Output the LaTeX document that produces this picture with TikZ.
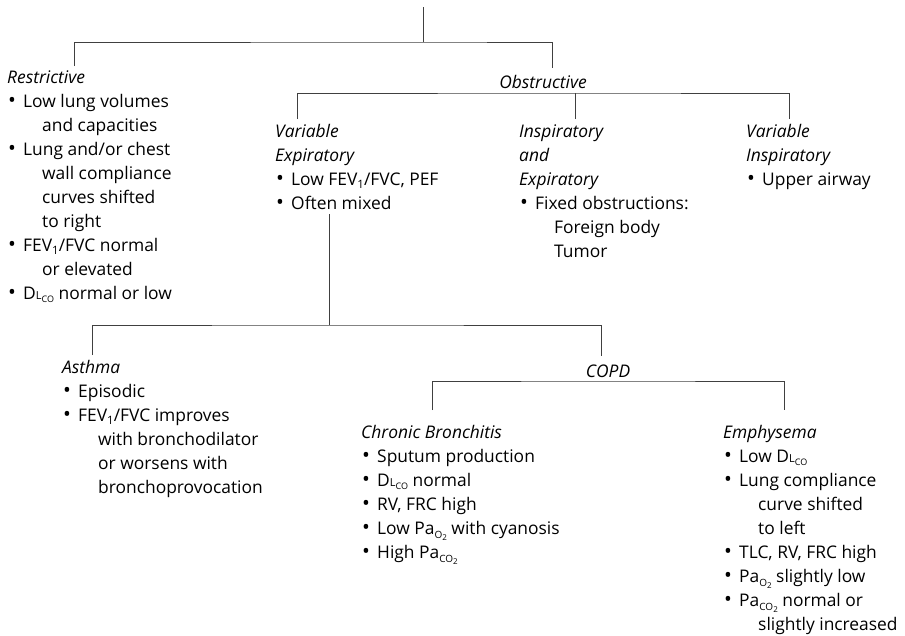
\documentclass[tikz,border=0pt]{standalone}
\usepackage{fontspec}
\setmainfont{Open Sans}
\usetikzlibrary{positioning}

\newcommand{\fs}{\fontsize{17.4}{24}\selectfont}
\newcommand{\bul}{\hspace*{1pt}\makebox[15pt][l]{\scalebox{1.2}{\textbullet}}}
\newcommand{\cont}{\hspace*{35pt}}
\newcommand{\fev}{FEV\raisebox{-3pt}{\fontsize{11.5}{11.5}\selectfont 1}}
\newcommand{\dlco}{D{\fontsize{11}{11}\selectfont L}\raisebox{-3pt}{\fontsize{9}{9}\selectfont CO}}
\newcommand{\pao}{Pa\raisebox{-4pt}{\fontsize{10}{10}\selectfont O\raisebox{-2.5pt}{\fontsize{8}{8}\selectfont 2}}}
\newcommand{\paco}{Pa\raisebox{-4pt}{\fontsize{10}{10}\selectfont CO\raisebox{-2.5pt}{\fontsize{8}{8}\selectfont 2}}}

\begin{document}
\begin{tikzpicture}[x=1pt, y=-1pt,
  blk/.style={anchor=north west, inner sep=0pt, align=left, font=\fs},
  hdr/.style={anchor=base, inner sep=0pt, font=\fs\itshape},
  ln/.style={line width=1pt, black!75}
]
  \useasboundingbox (0,0) rectangle (905,635);

  % first split
  \coordinate (root) at (423,7);
  \coordinate (rootbar) at (423,42);
  \coordinate (restr-in) at (74,66);
  \coordinate (obstr-in) at (552,68);

  \node[blk] (restr) at (7,66.2) {\strut\textit{Restrictive}\\
    \bul Low lung volumes\\
    \cont and capacities\\
    \bul Lung and/or chest\\
    \cont wall compliance\\
    \cont curves shifted\\
    \cont to right\\
    \bul \fev/FVC normal\\
    \cont or elevated\\
    \bul \dlco{} normal or low};
  \node[hdr] (obstr) at (543,88) {Obstructive};

  \draw[ln] (root) -- (rootbar);
  \draw[ln] (restr-in) |- (rootbar) -| (obstr-in);

  % obstructive types
  \coordinate (varexp-in) at (297,119);
  \coordinate (inspexp-in) at (575,119);
  \coordinate (varinsp-in) at (789,119);
  \coordinate (obar) at (575,93);

  \node[blk] (varexp) at (275,120.2) {\strut\textit{Variable}\\
    \textit{Expiratory}\\
    \bul Low \fev/FVC, PEF\\
    \bul Often mixed};
  \node[blk] (inspexp) at (519,120.2) {\strut\textit{Inspiratory}\\
    \textit{and}\\
    \textit{Expiratory}\\
    \bul Fixed obstructions:\\
    \cont Foreign body\\
    \cont Tumor};
  \node[blk] (varinsp) at (746,120.2) {\strut\textit{Variable}\\
    \textit{Inspiratory}\\
    \bul Upper airway};

  \draw[ln] (varexp-in) |- (obar) -| (varinsp-in);
  \draw[ln] (inspexp-in) -- (obar);

  % variable expiratory
  \coordinate (mixed-out) at (329,214);
  \coordinate (vbar) at (329,325);
  \coordinate (asthma-in) at (92,355);
  \coordinate (copd-in) at (601,356);

  \node[blk] (asthma) at (62,356.2) {\strut\textit{Asthma}\\
    \bul Episodic\\
    \bul \fev/FVC improves\\
    \hspace*{36pt}with bronchodilator\\
    \hspace*{36pt}or worsens with\\
    \hspace*{36pt}bronchoprovocation};
  \node[hdr] (copd) at (608,377) {COPD};

  \draw[ln] (mixed-out) -- (vbar);
  \draw[ln] (asthma-in) |- (vbar) -| (copd-in);

  % COPD
  \coordinate (chronbr-in) at (432,410);
  \coordinate (emph-in) at (784,410);
  \coordinate (cbar) at (608,381);

  \node[blk] (chronbr) at (361,421.2) {\strut\textit{Chronic Bronchitis}\\
    \bul Sputum production\\
    \bul \dlco{} normal\\
    \bul RV, FRC high\\
    \bul Low \pao{} with cyanosis\\
    \bul High \paco};
  \node[blk] (emph) at (723,421.2) {\strut\textit{Emphysema}\\
    \bul Low \dlco\\
    \bul Lung compliance\\
    \cont curve shifted\\
    \cont to left\\
    \bul TLC, RV, FRC high\\
    \bul \pao{} slightly low\\
    \bul \paco{} normal or\\
    \cont slightly increased};

  \draw[ln] (chronbr-in) |- (cbar) -| (emph-in);
\end{tikzpicture}
\end{document}
